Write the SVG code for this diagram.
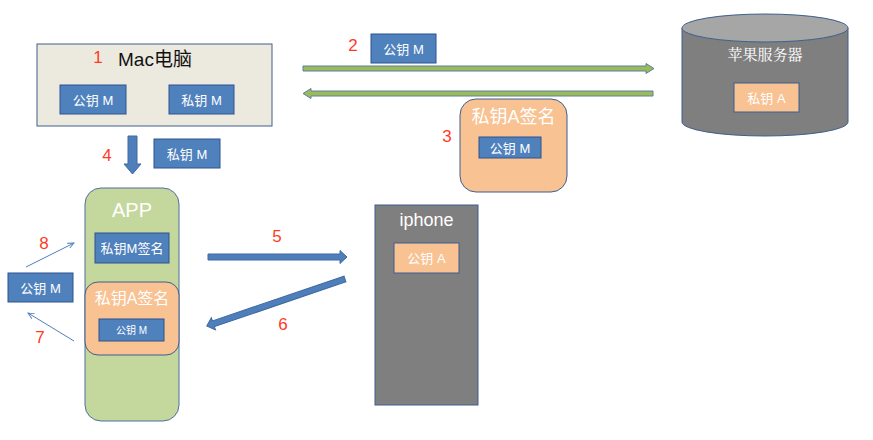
<svg xmlns="http://www.w3.org/2000/svg" width="873" height="440" viewBox="0 0 873 440">
<style>
text{font-family:"Liberation Sans","Noto Sans CJK SC",sans-serif}
.key{fill:#4F81BD;stroke:#2F528F;stroke-width:1}
.kt{fill:#fff;font-size:13px;text-anchor:middle;dominant-baseline:central}
.org{fill:#F8C293;stroke:#3F5F8F;stroke-width:1}
.num{fill:#FF3B1F;font-size:17px;text-anchor:middle;dominant-baseline:central}
.wt{fill:#fff;text-anchor:middle;dominant-baseline:central}
.green{fill:#9BBB59;stroke:#5B7FA5;stroke-width:1}
.blue{fill:#4F7FBB;stroke:#3F6A9F;stroke-width:1}
.thin{stroke:#4F7FBB;stroke-width:1;fill:none;marker-end:url(#ah)}
</style>
<defs>
<marker id="ah" viewBox="0 0 10 10" refX="9" refY="5" markerWidth="7" markerHeight="7" orient="auto" markerUnits="userSpaceOnUse">
<path d="M0,1 L9,5 L0,9" fill="none" stroke="#4F7FBB" stroke-width="1.3"/>
</marker>
</defs>
<rect width="873" height="440" fill="#fff"/>

<g id="mac">
<rect x="37" y="44" width="235" height="82" fill="#ECEADF" stroke="#3F5F8F" stroke-width="1"/>
<text x="98" y="57" class="num">1</text>
<text x="155" y="59" font-size="19" fill="#111" text-anchor="middle" dominant-baseline="central">Mac电脑</text>
<rect class="key" x="60" y="85" width="66" height="29"/>
<text class="kt" x="93" y="100">公钥 M</text>
<rect class="key" x="169" y="85" width="65" height="29"/>
<text class="kt" x="201.5" y="100">私钥 M</text>
</g>

<g id="server">
<path d="M682,28 V122 A83,14 0 0 0 848,122 V28" fill="#7F7F7F" stroke="#3F5F8F" stroke-width="1"/>
<ellipse cx="765" cy="28" rx="83" ry="14" fill="#A6A6A6" stroke="#3F5F8F" stroke-width="1"/>
<text class="wt" x="765" y="53" style="font-size:15px;font-family:'Noto Serif CJK SC','Noto Sans CJK SC',serif">苹果服务器</text>
<rect class="org" x="734" y="83" width="65" height="29"/>
<text class="kt" x="766.5" y="98">私钥 A</text>
</g>

<g id="sig3">
<rect class="org" x="460" y="99" width="107" height="93" rx="16"/>
<text class="wt" x="513.5" y="117" font-size="18">私钥A签名</text>
<rect class="key" x="479" y="137" width="62" height="21"/>
<text class="kt" x="510" y="148">公钥 M</text>
</g>

<g id="keyM2">
<rect class="key" x="371" y="34" width="65" height="29"/>
<text class="kt" x="403.5" y="49">公钥 M</text>
</g>

<g id="keyM4">
<rect class="key" x="154" y="139" width="66" height="29"/>
<text class="kt" x="187" y="154">私钥 M</text>
</g>

<g id="app">
<rect x="85" y="188" width="94" height="233" rx="16" fill="#C4D79C" stroke="#4F6F9F" stroke-width="1"/>
<text class="wt" x="132" y="210" font-size="20">APP</text>
<rect class="key" x="95" y="233" width="74" height="30"/>
<text class="kt" x="132" y="248">私钥M签名</text>
<rect class="org" x="85" y="282" width="94" height="73" rx="13"/>
<text class="wt" x="132" y="298" font-size="16">私钥A签名</text>
<rect class="key" x="99" y="319" width="65" height="22"/>
<text class="kt" x="131.5" y="330" style="font-size:10px">公钥 M</text>
</g>

<g id="keyM78">
<rect class="key" x="8" y="273" width="65" height="29"/>
<text class="kt" x="40.5" y="288">公钥 M</text>
</g>

<g id="iphone">
<rect x="375" y="205" width="103" height="200" fill="#7F7F7F" stroke="#3F5F8F" stroke-width="1"/>
<text class="wt" x="426.5" y="220" font-size="18">iphone</text>
<rect class="org" x="394" y="243" width="65" height="30"/>
<text class="kt" x="426.5" y="258">公钥 A</text>
</g>

<g id="connectors">
<polygon class="green" points="303,66 646,66 646,63.5 654,68.5 646,73.5 646,71 303,71"/>
<polygon class="green" points="653,91 311,91 311,88.5 303,93.5 311,98.5 311,96 653,96"/>
<text x="353" y="45" class="num">2</text>
<text x="447" y="136" class="num">3</text>
<polygon class="blue" points="128,136 137,136 137,164 141,164 132.5,174 124,164 128,164"/>
<text x="107" y="155" class="num">4</text>
<polygon class="blue" points="208,254 340,254 340,250.5 347,257 340,263.5 340,260 208,260"/>
<text x="277" y="236" class="num">5</text>
<g transform="translate(345,279) rotate(161.2)">
<polygon class="blue" points="0,-3 139,-3 139,-6.5 146,0 139,6.5 139,3 0,3"/>
</g>
<text x="283" y="324" class="num">6</text>
<line class="thin" x1="26" y1="267" x2="74" y2="243"/>
<text x="44" y="243" class="num">8</text>
<line class="thin" x1="74" y1="341" x2="28" y2="313"/>
<text x="40" y="337" class="num">7</text>
</g>
</svg>
